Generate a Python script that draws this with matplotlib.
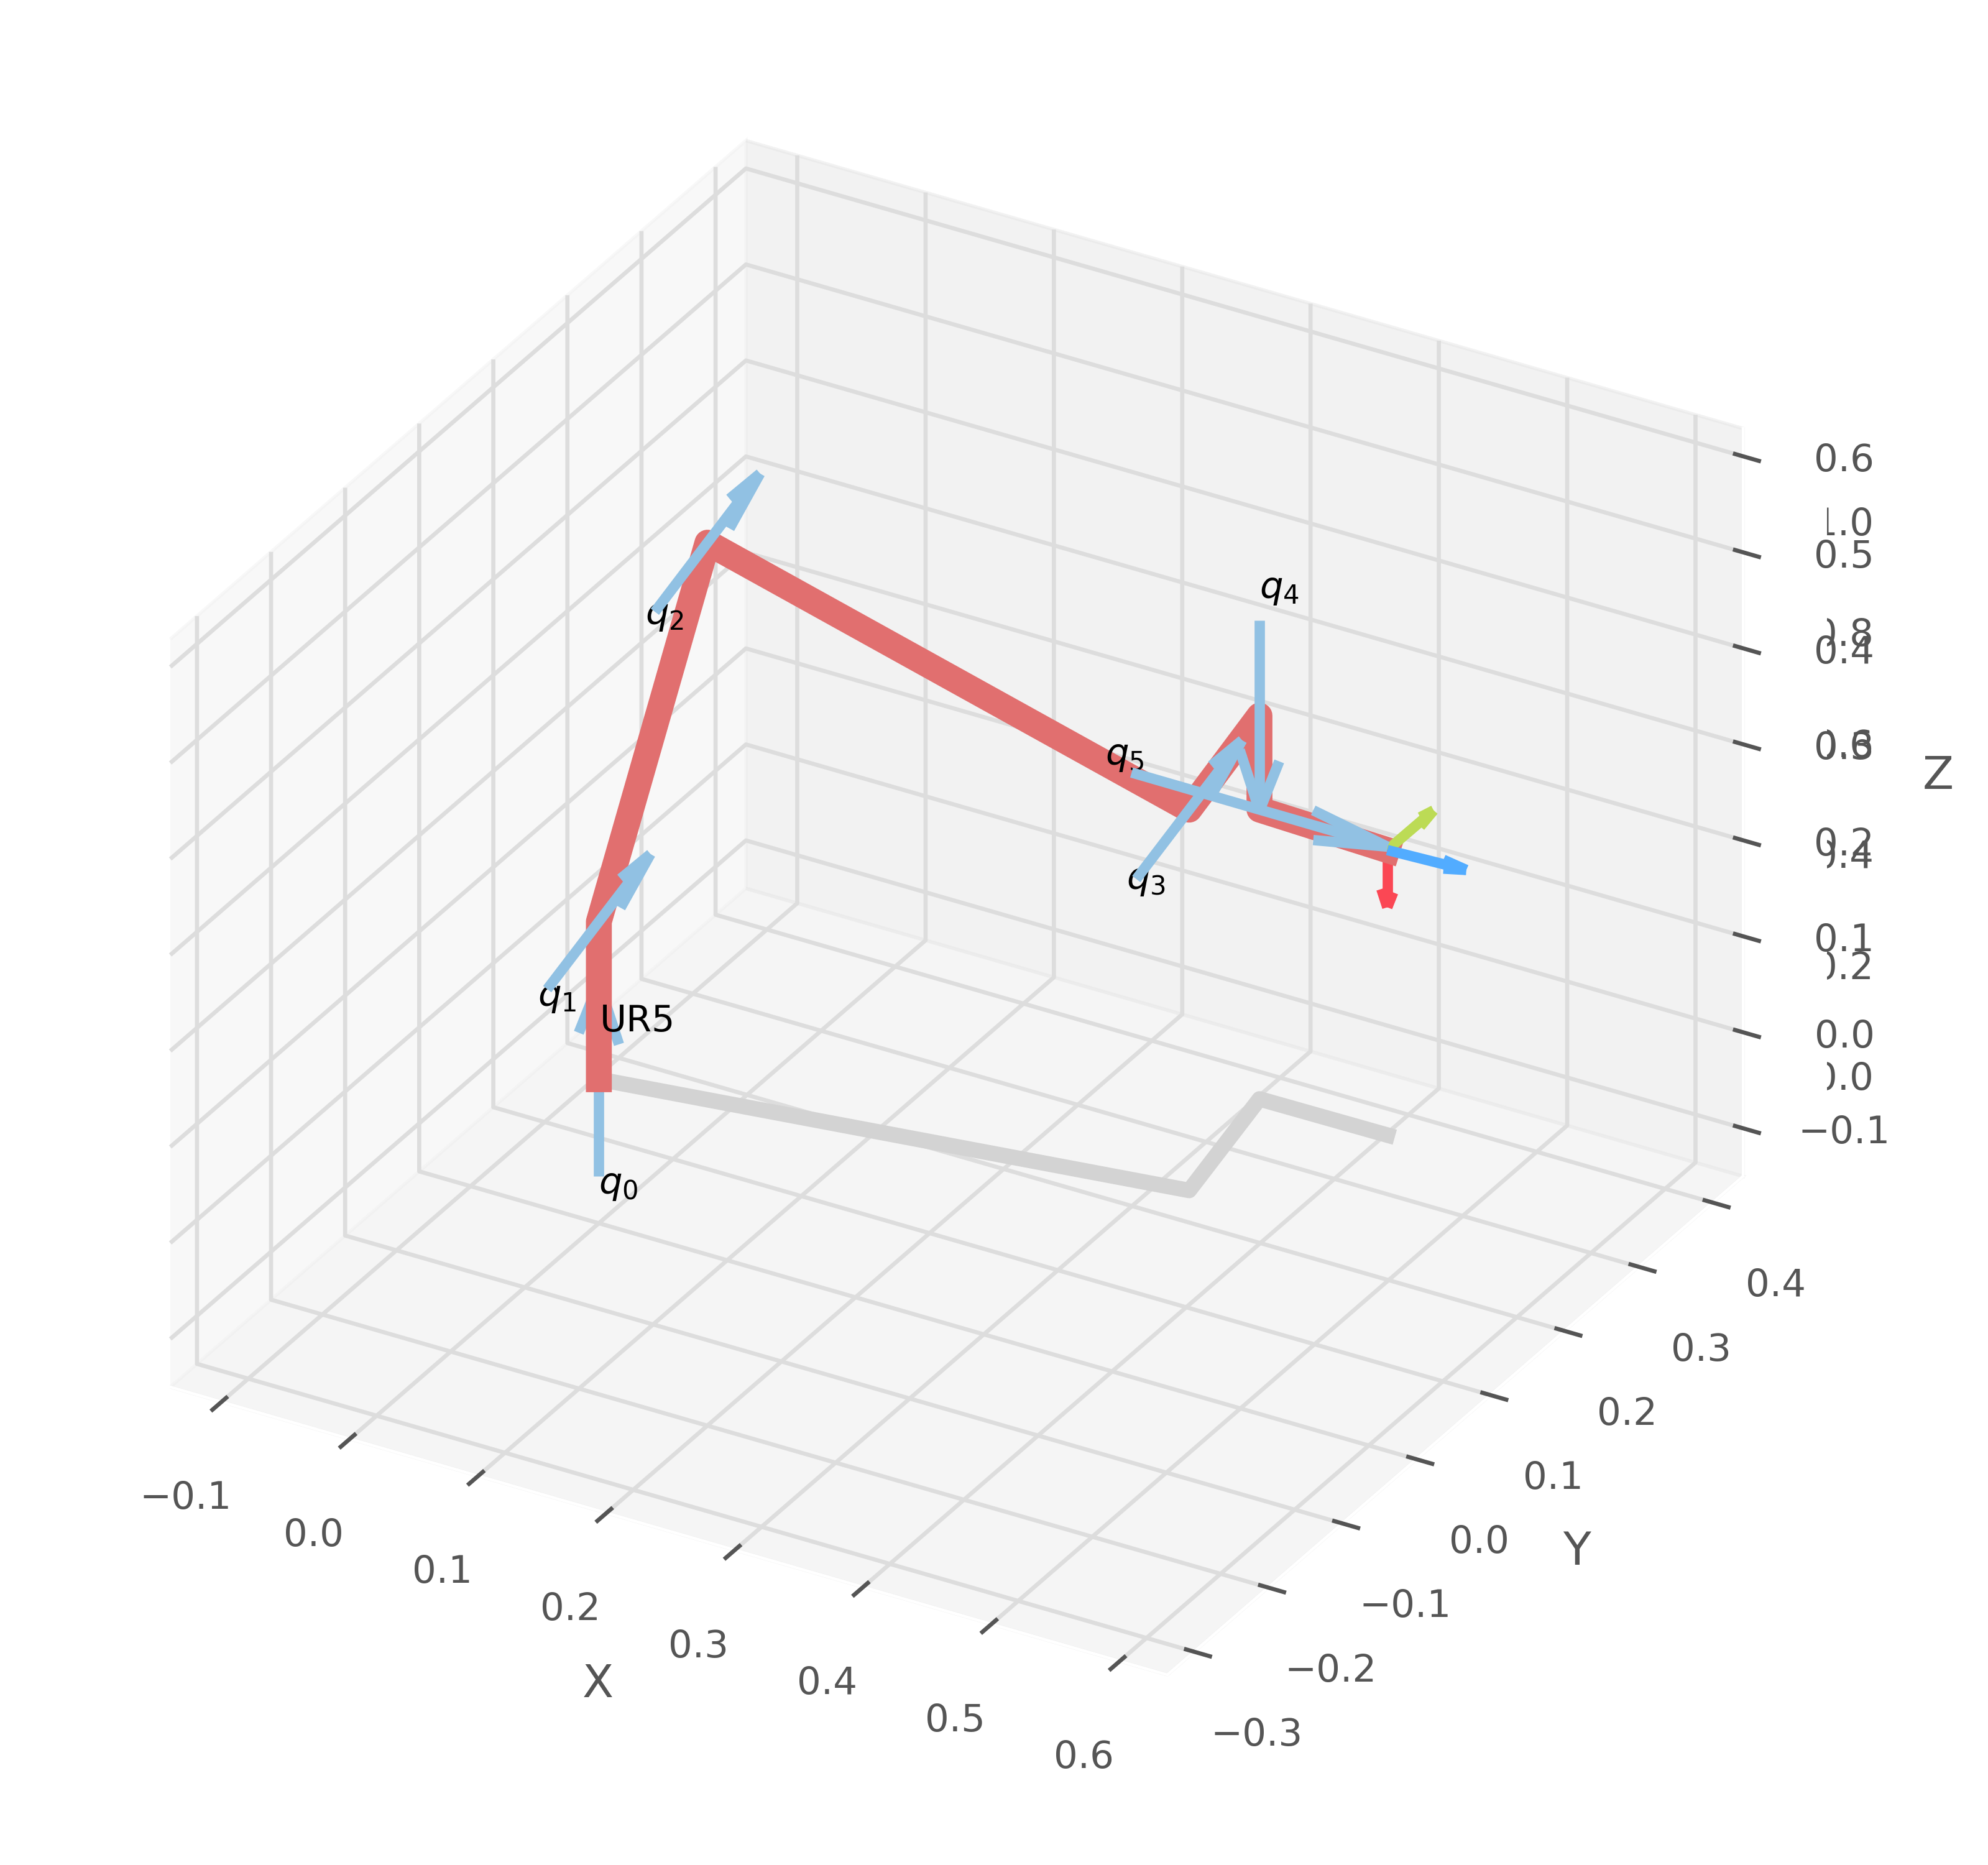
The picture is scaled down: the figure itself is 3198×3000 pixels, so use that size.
import matplotlib
matplotlib.use('Agg')
from matplotlib import pyplot as plt

# joint positions of the arm, base first, end effector last
joint_x = [0.0, 0.0, 0.0773, 0.4201, 0.3994, 0.3994, 0.4985]
joint_y = [0.0, 0.0, 0.0127, 0.0692, 0.1999, 0.1999, 0.2008]
joint_z = [0.0, 0.1642, 0.5803, 0.3967, 0.3993, 0.3014, 0.2969]
shadow_z = [0.0, 0.0, 0.0, 0.0, 0.0, 0.0, 0.0]

# joint axis vectors, drawn centred on each joint
axis_u = [0.0, -0.0308, -0.0318, -0.0318, 0.0, 0.1995]
axis_v = [0.0, 0.1927, 0.197, 0.1979, 0.0, -0.0003]
axis_w = [0.2016, 0.0, 0.0, 0.0, -0.1984, 0.0]

# joint names
label_text = ['$q_0$', '$q_1$', '$q_2$', '$q_3$', '$q_4$', '$q_5$']
label_x = [-0.0002, 0.0079, 0.0856, 0.4282, 0.3994, 0.279]
label_y = [0.0, -0.0964, -0.0858, -0.0298, 0.1999, 0.2]
label_z = [-0.1194, 0.1441, 0.5642, 0.3832, 0.5216, 0.3017]

robot_name = 'UR5'
robot_pos = [0.0007, 0.0, 0.0499]

# tool frame vectors at the last joint
frame_x = [0.0596, 0.0034, 0.0]
frame_y = [0.0003, 0.062, 0.0]
frame_z = [0.0, 0.0, -0.0596]

# the axes left underneath, mostly hidden by the 3d one
under_ticks = [0, 0.2, 0.4, 0.6, 0.8, 1.0]

x_ticks = [-0.1, 0.0, 0.1, 0.2, 0.3, 0.4, 0.5, 0.6]
y_ticks = [-0.3, -0.2, -0.1, 0.0, 0.1, 0.2, 0.3, 0.4]
z_ticks = [-0.1, 0.0, 0.1, 0.2, 0.3, 0.4, 0.5, 0.6]

plt.rcParams['grid.color'] = '#dddddd'
plt.rcParams['grid.linewidth'] = 1.2
plt.rcParams['axes.edgecolor'] = 'white'
plt.rcParams['xtick.color'] = '#555555'
plt.rcParams['ytick.color'] = '#555555'
plt.rcParams['axes.labelcolor'] = '#555555'
plt.rcParams['xtick.major.width'] = 1.2
plt.rcParams['ytick.major.width'] = 1.2
plt.rcParams['xtick.labelsize'] = 11
plt.rcParams['ytick.labelsize'] = 11
plt.rcParams['axes.labelsize'] = 13.2

W, H = 3198, 3000
fig = plt.figure(figsize=(W/400, H/400), dpi=400)

under = fig.add_axes([0.5, (H-1730)/H, 2878/W-0.5, 892/H])
under.yaxis.tick_right()
under.set_xticks([])
under.set_ylim(0, 1)
under.set_yticks(under_ticks)

ax = fig.add_axes([61/W, 62/H, 2878/W, 2878/H], projection='3d', proj_type='ortho')
ax.computed_zorder = False
ax.set_xlim(-0.14, 0.637, view_margin=0)
ax.set_ylim(-0.336, 0.441, view_margin=0)
ax.set_zlim(-0.15, 0.629, view_margin=0)
ax.set_xticks(x_ticks)
ax.set_yticks(y_ticks)
ax.set_zticks(z_ticks)
ax.set_xlabel('X', labelpad=12.3)
ax.set_ylabel('Y', labelpad=11.9)
ax.set_zlabel('Z', labelpad=12.5)
ax.tick_params(axis='x', pad=9)
ax.tick_params(axis='y', pad=9)
ax.tick_params(axis='z', pad=9.4)

ax.plot(joint_x, joint_y, shadow_z, color='#d3d3d3', lw=4.5, zorder=1)
ax.plot(joint_x, joint_y, joint_z, color='#e16f6f', lw=7.5, zorder=4)

for i in range(6):
    ax.quiver(joint_x[i], joint_y[i], joint_z[i], axis_u[i], axis_v[i], axis_w[i],
              pivot='middle', color='#91c1e3', lw=3, arrow_length_ratio=0.3,
              zorder=2 if i == 0 else 6)
    ax.text(label_x[i], label_y[i], label_z[i], label_text[i], color='black', fontsize=10.7, zorder=5.5)

ax.text(robot_pos[0], robot_pos[1], robot_pos[2], robot_name, color='black', fontsize=10.6, zorder=5.5)

ax.quiver(joint_x[-1], joint_y[-1], joint_z[-1], *frame_z, color='#fb4754', lw=3, zorder=3)
ax.quiver(joint_x[-1], joint_y[-1], joint_z[-1], *frame_y, color='#bcdb55', lw=3, zorder=5)
ax.quiver(joint_x[-1], joint_y[-1], joint_z[-1], *frame_x, color='#52acff', lw=3, zorder=7)

fig.savefig('out.png', dpi=400)
